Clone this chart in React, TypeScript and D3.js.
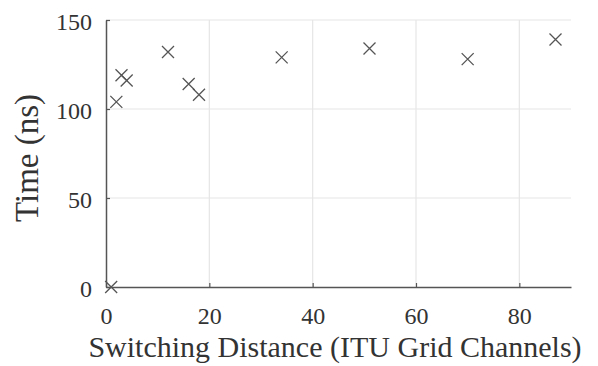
import React, { useEffect, useRef } from "react";
import * as d3 from "d3";

// switching distance (ITU grid channels) and switching time (ns)
const distances = [1, 2, 3, 4, 12, 16, 18, 34, 51, 70, 87];
const times = [0, 104, 119, 116, 132, 114, 108, 129, 134, 128, 139];
const xTicks = [0, 20, 40, 60, 80];
const yTicks = [0, 50, 100, 150];

const W = 598;
const H = 366;

export default function App() {
  const ref = useRef<SVGSVGElement>(null);

  useEffect(() => {
    const svg = d3.select(ref.current);
    svg.selectAll("*").remove();

    const margin = { top: 20, right: 27, bottom: 79, left: 106 };
    const width = W - margin.left - margin.right;
    const height = H - margin.top - margin.bottom;
    const font = "'Liberation Serif', 'Times New Roman', serif";

    const x = d3.scaleLinear().domain([0, 90]).range([0, width]);
    const y = d3.scaleLinear().domain([0, 150]).range([height, 0]);

    const g = svg
      .append("g")
      .attr("transform", "translate(" + margin.left + "," + margin.top + ")");

    // grid
    g.selectAll(".gx")
      .data(xTicks.filter((d) => d > 0))
      .enter()
      .append("line")
      .attr("x1", (d) => x(d))
      .attr("x2", (d) => x(d))
      .attr("y1", 0)
      .attr("y2", height)
      .attr("stroke", "#e6e6e6")
      .attr("stroke-width", 1.2);

    g.selectAll(".gy")
      .data(yTicks.filter((d) => d > 0))
      .enter()
      .append("line")
      .attr("x1", 0)
      .attr("x2", width)
      .attr("y1", (d) => y(d))
      .attr("y2", (d) => y(d))
      .attr("stroke", "#e6e6e6")
      .attr("stroke-width", 1.2);

    // axes
    const xAxis = g
      .append("g")
      .attr("transform", "translate(0," + height + ")")
      .call(d3.axisBottom(x).tickValues(xTicks).tickSizeInner(-4).tickSizeOuter(0).tickPadding(12));
    const yAxis = g
      .append("g")
      .call(d3.axisLeft(y).tickValues(yTicks).tickSizeInner(-4).tickSizeOuter(0).tickPadding(14));

    [xAxis, yAxis].forEach((a) => {
      a.select(".domain").attr("stroke", "#555").attr("stroke-width", 1.5);
      a.selectAll(".tick line").attr("stroke", "#555").attr("stroke-width", 1.2);
      a.selectAll(".tick text")
        .attr("fill", "#333")
        .style("font-family", font)
        .style("font-size", "24px");
    });
    xAxis.selectAll(".tick text").attr("dy", "1.04em");
    yAxis.selectAll(".tick text").attr("dy", "0.4em");

    // markers
    const s = 6;
    const pts = distances.map((d, i) => ({ x: d, y: times[i] }));
    const marks = g
      .selectAll(".pt")
      .data(pts)
      .enter()
      .append("g")
      .attr("transform", (d) => "translate(" + x(d.x) + "," + y(d.y) + ")");
    marks
      .append("path")
      .attr("d", `M${-s},${-s}L${s},${s}M${-s},${s}L${s},${-s}`)
      .attr("stroke", "#555")
      .attr("stroke-width", 1.3)
      .attr("fill", "none");

    // labels
    svg
      .append("text")
      .attr("x", 335)
      .attr("y", 357)
      .attr("text-anchor", "middle")
      .attr("fill", "#333")
      .style("font-family", font)
      .style("font-size", "30px")
      .text("Switching Distance (ITU Grid Channels)");

    svg
      .append("text")
      .attr("transform", "translate(38,158) rotate(-90)")
      .attr("text-anchor", "middle")
      .attr("fill", "#333")
      .style("font-family", font)
      .style("font-size", "33px")
      .text("Time (ns)");
  }, []);

  return (
    <svg
      ref={ref}
      width={W}
      height={H}
      style={{ position: "absolute", left: 0, top: 0, background: "#fff" }}
    />
  );
}
